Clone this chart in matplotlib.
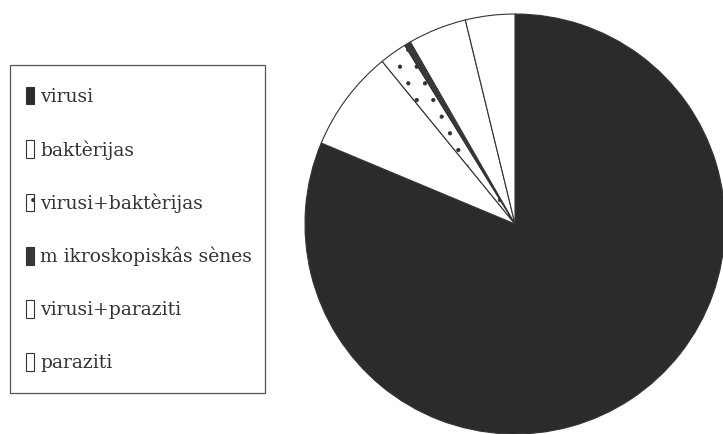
import matplotlib

matplotlib.use("Agg")
import matplotlib.pyplot as plt
from matplotlib.patches import Rectangle

# slice shares (%), clockwise from 12 o'clock
labels = [
    "virusi",
    "baktèrijas",
    "virusi+baktèrijas",
    "m ikroskopiskâs sènes",
    "virusi+paraziti",
    "paraziti",
]
shares = [81.3, 7.8, 2.1, 0.5, 4.5, 3.8]

faces = ["#2b2b2b", "white", "white", "#3a3a3a", "white", "white"]
hatches = [None, None, ".", "++", None, None]

plt.rcParams["hatch.color"] = "#b0b0b0"
plt.rcParams["hatch.linewidth"] = 0.6

fig = plt.figure(figsize=(7.23, 4.34), dpi=100)

# pie: centre ~ (515, 224) px, radius ~210 px
ax = fig.add_axes([305 / 723, 0.0, 420 / 723, 420 / 434])
wedges, _ = ax.pie(
    shares,
    colors=faces,
    startangle=90,
    counterclock=False,
    wedgeprops=dict(edgecolor="#333333", linewidth=0.8),
)
for w, h in zip(wedges, hatches):
    if h:
        w.set_hatch(h)
ax.set_xlim(-1, 1)
ax.set_ylim(-1, 1)
ax.set_aspect("equal")
ax.axis("off")

# legend box, drawn separately so its size matches the scan
fig.patches.append(
    Rectangle((10 / 723, 1 - 393 / 434), 255 / 723, 328 / 434,
              transform=fig.transFigure, fill=False, edgecolor="#555555", linewidth=0.9)
)
leg = fig.legend(
    wedges,
    labels,
    loc="upper left",
    bbox_to_anchor=(26 / 723, 1 - 87 / 434),
    frameon=False,
    prop={"family": "DejaVu Serif", "size": 13.5},
    handlelength=0.45,
    handleheight=1.05,
    handletextpad=0.3,
    labelspacing=1.81,
    borderpad=0,
    borderaxespad=0,
)
for t in leg.get_texts():
    t.set_color("#333333")

fig.savefig("out.png", dpi=100)
